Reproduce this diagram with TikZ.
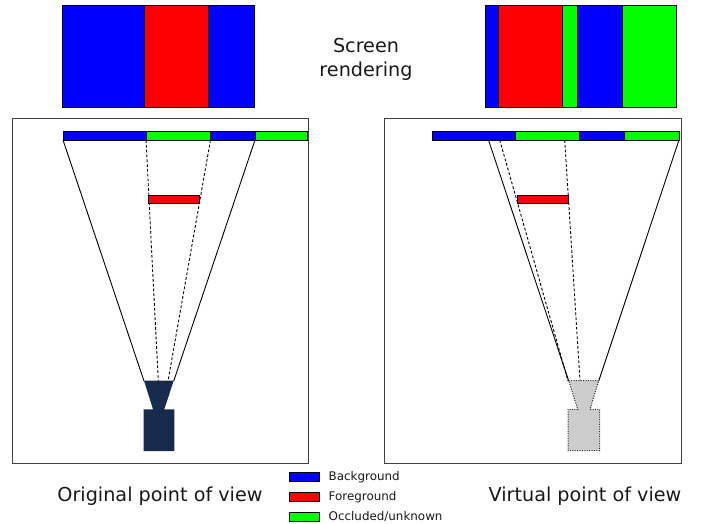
\documentclass[tikz,border=0pt]{standalone}
\usepackage{fontspec}
\setmainfont{DejaVu Sans}
\definecolor{bgblue}{RGB}{0,0,255}
\definecolor{fgred}{RGB}{255,0,0}
\definecolor{occgreen}{RGB}{0,255,0}
\definecolor{camnavy}{RGB}{23,43,77}
\definecolor{camgrey}{RGB}{204,204,204}
\tikzset{
  seg/.style={draw=black,line width=0.8pt},
  frameline/.style={draw=black!75,line width=1pt},
  ray/.style={draw=black,line width=0.9pt},
  dashray/.style={draw=black,line width=0.9pt,dash pattern=on 2.8pt off 2pt},
  bigtext/.style={font=\fontsize{19.2}{24}\selectfont,align=center,inner sep=0pt,text=black!90},
  legendtext/.style={font=\fontsize{11.9}{14}\selectfont,anchor=west,inner sep=0pt,text=black!90},
}
\begin{document}
\begin{tikzpicture}[x=1pt,y=-1pt]
\useasboundingbox (0,0) rectangle (709,523);
% top screens
\fill[bgblue] (62,5.5) rectangle (144,107);
\fill[fgred] (144,5.5) rectangle (208.5,107);
\fill[bgblue] (208.5,5.5) rectangle (254.5,107);
\draw[seg] (144,5.5) -- (144,107) (208.5,5.5) -- (208.5,107);
\draw[seg] (62,5.5) rectangle (254.5,107);
\fill[bgblue] (485.5,5.5) rectangle (498,107);
\fill[fgred] (498,5.5) rectangle (562,107);
\fill[occgreen] (562,5.5) rectangle (577.5,107);
\fill[bgblue] (577.5,5.5) rectangle (622.7,107);
\fill[occgreen] (622.7,5.5) rectangle (676.7,107);
\draw[seg] (498,5.5) -- (498,107) (562,5.5) -- (562,107) (577.5,5.5) -- (577.5,107) (622.7,5.5) -- (622.7,107);
\draw[seg] (485.5,5.5) rectangle (676.7,107);
% frames
\draw[frameline] (12,118.3) rectangle (308.5,463);
\draw[frameline] (384.7,118.3) rectangle (681.3,463);
% left strip
\draw[seg,fill=bgblue] (63,131.5) rectangle (146,140);
\draw[seg,fill=occgreen] (146,131.5) rectangle (210.5,140);
\draw[seg,fill=bgblue] (210.5,131.5) rectangle (255,140);
\draw[seg,fill=occgreen] (255,131.5) rectangle (307,140);
% right strip
\draw[seg,fill=bgblue] (432.3,131.5) rectangle (515,140);
\draw[seg,fill=occgreen] (515,131.5) rectangle (579.7,140);
\draw[seg,fill=bgblue] (579.7,131.5) rectangle (624.3,140);
\draw[seg,fill=occgreen] (624.3,131.5) rectangle (679,140);
% rays left
\draw[ray] (63,140) -- (144,381);
\draw[ray] (255,140) -- (173.7,381);
\draw[dashray] (146,140) -- (158.3,381);
\draw[dashray] (210.5,140) -- (168,381);
% rays right
\draw[ray] (488.5,140) -- (568.7,381);
\draw[ray] (679,140) -- (598.7,381);
\draw[dashray] (499.7,140) -- (568,381);
\draw[dashray] (564.7,140) -- (580,381);
% red bars
\draw[seg,fill=fgred] (148.5,195.5) rectangle (199.5,203.5);
\draw[seg,fill=fgred] (517.3,195.5) rectangle (568.7,203.5);
% cameras
\fill[camnavy] (144,380.7) -- (173.7,380.7) -- (164.3,409.3) -- (174.3,409.3) -- (174.3,451) -- (143.7,451) -- (143.7,409.3) -- (153,409.3) -- cycle;
\draw[fill=camgrey,draw=black!85,line width=1pt,dash pattern=on 1pt off 1.4pt] (568.7,380.7) -- (598.7,380.7) -- (590,409.3) -- (599.5,409.3) -- (599.5,450.5) -- (568,450.5) -- (568,409.3) -- (577.7,409.3) -- cycle;
% texts
\node[bigtext] (scr) at (366,59.5) {Screen\\rendering};
\node[bigtext] (orig) at (160,496.5) {Original point of view};
\node[bigtext] (virt) at (585,496.5) {Virtual point of view};
% legend
\draw[seg,fill=bgblue] (289.5,472.5) rectangle (319,481);
\draw[seg,fill=fgred] (289.5,492.5) rectangle (319,501);
\draw[seg,fill=occgreen] (289.5,512.5) rectangle (319,521);
\node[legendtext] (l1) at (328.5,477) {Background};
\node[legendtext] (l2) at (328.5,497) {Foreground};
\node[legendtext] (l3) at (328.5,517) {Occluded/unknown};
\end{tikzpicture}
\end{document}
